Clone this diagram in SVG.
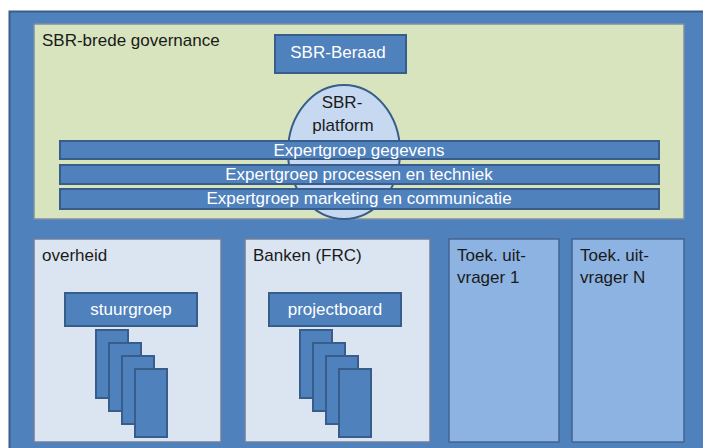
<svg xmlns="http://www.w3.org/2000/svg" width="703" height="448" viewBox="0 0 703 448">
<style>
text{font-family:"Liberation Sans",Arial,sans-serif;}
.blue{fill:#4f81bd;stroke:#385d8a;stroke-width:2;}
.lbl{font-size:17px;fill:#1a1a1a;}
.wt{font-size:17px;fill:#ffffff;text-anchor:middle;}
.light{fill:#dbe5f1;stroke:#6f7f99;stroke-width:1.5;}
.mid{fill:#8db3e2;stroke:#44648f;stroke-width:1.5;}
</style>
<rect width="703" height="448" fill="#ffffff"/>
<g id="frame">
<rect x="9.5" y="11.5" width="700" height="440" fill="#4f81bd" stroke="#385d8a" stroke-width="2"/>
</g>
<g id="sbr-brede-governance">
<rect x="34" y="24" width="650" height="195" fill="#d7e4bd" stroke="#7f8fa6" stroke-width="1.5"/>
<text class="lbl" x="42" y="46">SBR-brede governance</text>
</g>
<g id="sbr-beraad">
<rect class="blue" x="275" y="35" width="131" height="38"/>
<text class="wt" x="338" y="58">SBR-Beraad</text>
</g>
<g id="sbr-platform">
<ellipse cx="344" cy="152" rx="56" ry="67" fill="#c6d9f1" stroke="#385d8a" stroke-width="2"/>
<text x="342" y="108" font-size="17" fill="#1a1a1a" text-anchor="middle">SBR-</text>
<text x="343" y="131" font-size="17" fill="#1a1a1a" text-anchor="middle">platform</text>
</g>
<g id="expertgroep-gegevens">
<rect class="blue" x="60" y="141" width="599" height="18"/>
<text class="wt" x="359" y="156">Expertgroep gegevens</text>
</g>
<g id="expertgroep-processen">
<rect class="blue" x="60" y="165" width="599" height="19"/>
<text class="wt" x="359" y="180">Expertgroep processen en techniek</text>
</g>
<g id="expertgroep-marketing">
<rect class="blue" x="60" y="189" width="599" height="20"/>
<text class="wt" x="359" y="204">Expertgroep marketing en communicatie</text>
</g>
<g id="overheid">
<rect class="light" x="34" y="239" width="187" height="203"/>
<text class="lbl" x="42" y="261">overheid</text>
<rect class="blue" x="65" y="293" width="132" height="33"/>
<text class="wt" x="131" y="315">stuurgroep</text>
<rect class="blue" x="96" y="330" width="32" height="68"/>
<rect class="blue" x="109" y="343" width="32" height="68"/>
<rect class="blue" x="122" y="356" width="32" height="68"/>
<rect class="blue" x="135" y="369" width="32" height="68"/>
</g>
<g id="banken">
<rect class="light" x="245" y="239" width="185" height="203"/>
<text class="lbl" x="253" y="261">Banken (FRC)</text>
<rect class="blue" x="269" y="293" width="132" height="33"/>
<text class="wt" x="335" y="315">projectboard</text>
<rect class="blue" x="300" y="330" width="32" height="68"/>
<rect class="blue" x="313" y="343" width="32" height="68"/>
<rect class="blue" x="326" y="356" width="32" height="68"/>
<rect class="blue" x="339" y="369" width="32" height="68"/>
</g>
<g id="toek-uitvrager-1">
<rect class="mid" x="449" y="239" width="110" height="203"/>
<text class="lbl" x="457" y="261">Toek. uit-</text>
<text class="lbl" x="457" y="283">vrager 1</text>
</g>
<g id="toek-uitvrager-n">
<rect class="mid" x="572" y="239" width="112" height="203"/>
<text class="lbl" x="580" y="261">Toek. uit-</text>
<text class="lbl" x="580" y="283">vrager N</text>
</g>
<g id="connectors"></g>
</svg>
